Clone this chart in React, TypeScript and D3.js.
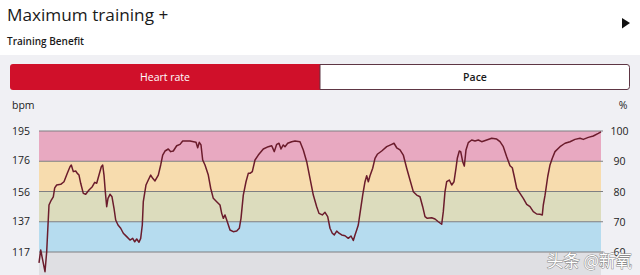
import React from "react";
import * as d3 from "d3";

// Heart-rate trace: elapsed minutes and bpm
const minutes = [
  0, 0.17, 0.33, 0.6, 0.77, 0.9, 1.0, 1.23, 1.43, 1.57, 1.77, 2.17, 2.5, 2.83, 3.1, 3.23, 3.43, 3.67, 3.83, 4.0,
  4.17, 4.43, 4.67, 5.0, 5.33, 5.57, 5.77, 6.0, 6.23, 6.37, 6.5, 6.63, 6.77, 6.9, 7.1, 7.3, 7.5, 7.67, 7.9, 8.17,
  8.43, 8.77, 9.1, 9.37, 9.57, 9.77, 10.0, 10.17, 10.33, 10.43, 10.7, 10.93, 11.17, 11.37, 11.6, 11.93, 12.17, 12.37, 12.6, 12.93,
  13.17, 13.43, 13.77, 14.1, 14.37, 15.1, 15.7, 15.87, 16.03, 16.2, 16.37, 16.6, 16.93, 17.17, 17.43, 17.77, 18.1, 18.27, 18.43, 18.6,
  18.83, 19.1, 19.43, 19.77, 20.03, 20.2, 20.43, 20.7, 20.93, 21.1, 21.33, 21.6, 21.93, 22.43, 22.93, 23.27, 23.53, 23.77, 24.0, 24.2,
  24.43, 24.6, 24.87, 25.27, 25.6, 26.1, 26.43, 26.77, 27.1, 27.43, 27.77, 28.0, 28.33, 28.6, 28.87, 29.1, 29.33, 29.53, 29.77, 30.0,
  30.27, 30.6, 30.93, 31.2, 31.43, 31.6, 31.77, 31.93, 32.1, 32.37, 32.6, 32.77, 32.93, 33.1, 33.37, 33.6, 33.83, 34.27, 34.77, 35.27,
  35.5, 35.77, 36.1, 36.43, 36.77, 37.1, 37.43, 37.77, 38.1, 38.37, 38.6, 38.83, 39.27, 39.6, 39.93, 40.27, 40.43, 40.6, 40.77, 41.03,
  41.27, 41.5, 41.7, 41.83, 42.03, 42.17, 42.37, 42.53, 42.7, 42.93, 43.27, 43.6, 43.93, 44.27, 44.77, 45.27, 45.77, 46.1, 46.43, 46.77,
  47.1, 47.33, 47.53, 47.77, 48.1, 48.43, 48.77, 49.1, 49.43, 49.77, 50.1, 50.33, 50.43, 50.6, 50.87, 51.1, 51.33, 51.6, 52.1, 52.6,
  53.1, 53.6, 54.1, 54.43, 54.93, 55.43, 55.93, 56.2,
];
const heartRate = [
  110, 118.3, 113.1, 104.3, 117.2, 134.4, 147.3, 150.5, 152.6, 158.3, 160.2, 160.6, 162.3, 167.7, 172, 173.1, 168.8, 169.2, 167.7, 166.6,
  161.3, 154.8, 154.2, 157, 159.1, 161.9, 161.3, 166.6, 172, 173.1, 166.6, 155.9, 146.2, 151.6, 154.2, 152.6, 145.2, 137.6, 134.4, 132.3,
  129.1, 126.9, 124.7, 125.8, 123.6, 125.4, 123.3, 125.8, 134.4, 149.4, 160.2, 163.4, 166.6, 164.5, 162.8, 166.6, 173.1, 179.5, 182.1, 183.4,
  181.7, 182.1, 185.5, 186.4, 188.6, 188.6, 187.7, 184.2, 187.7, 186, 176.3, 173.1, 166.6, 158.1, 151.6, 149.4, 147.3, 141.9, 138.7, 140.9,
  136.5, 131.2, 130.1, 130.5, 132.3, 138.7, 153.7, 162.3, 167.7, 167.7, 168.8, 176.3, 179.5, 183.4, 184.9, 185.5, 181.7, 186.4, 187.1, 183.4,
  186, 184.9, 187.1, 188.1, 188.6, 188.1, 182.8, 175.2, 164.5, 153.7, 146.2, 141.9, 140.9, 142.6, 139.8, 132.3, 129.1, 128, 130.5, 129.1,
  128, 127.5, 125.8, 127.3, 124.4, 128, 131.2, 134.4, 141.9, 153.7, 162.3, 166.2, 162.3, 166.2, 171, 177.4, 180, 182.1, 184.9, 186.4,
  187.1, 184.2, 182.8, 179.5, 171, 163.4, 155.9, 153.7, 152.6, 146.2, 139.8, 138.7, 139.1, 138.3, 136.5, 134.9, 143, 155.9, 162.3, 163.4,
  160.2, 162.3, 171, 177.4, 182.1, 181.7, 175.2, 172.4, 182.8, 187.5, 189.2, 188.6, 189.2, 188.1, 189.2, 190.3, 189.8, 188.1, 184.9, 178.4,
  172.6, 171.3, 165.5, 158.1, 154.8, 151.6, 147.7, 146.2, 143, 141.5, 141.3, 140.9, 147.3, 153.5, 165.5, 173.1, 177.4, 181.7, 184.9, 187.1,
  188.1, 189.6, 190.3, 189.6, 190.9, 191.8, 193.5, 194.5,
];

// Axis labels
const bpmTicks = [195, 176, 156, 137, 117];
const pctTicks = [100, 90, 80, 70, 60];

// Training zones as % of max heart rate
const zoneLow = [90, 80, 70, 60];
const zoneHigh = [100, 90, 80, 70];
const zoneColors = ["#e8a9c1", "#f7dcae", "#dcdcbd", "#b6dcef"];

const tabs = ["Heart rate", "Pace"];

const FONT = "'Open Sans', 'Noto Sans', sans-serif";

export default function App() {
  const W = 640;
  const H = 275;
  const left = 39;
  const right = 601;
  const top = 131;
  const bottom = 252;

  const x = d3.scaleLinear().domain([0, 56.2]).range([left, right]);
  const yBpm = d3.scaleLinear().domain([117, 195]).range([bottom, top]);
  const yPct = d3.scaleLinear().domain([60, 100]).range([bottom, top]);

  const pts = minutes.map((m, i) => [m, heartRate[i]] as [number, number]);
  const line = d3
    .line<[number, number]>()
    .x((d) => x(d[0]))
    .y((d) => yBpm(d[1]))
    .curve(d3.curveLinear);

  const tabMid = 320;
  const tabLeft = 10;
  const tabRight = 630;

  return (
    <svg
      width={W}
      height={H}
      style={{ position: "absolute", left: 0, top: 0, background: "#f0f0f4" }}
      fontFamily={FONT}
    >
      {/* header */}
      <rect x={0} y={0} width={W} height={55} fill="#ffffff" />
      <text x={7} y={21} fontSize={17.2} fill="#1a1a1a">
        Maximum training +
      </text>
      <text x={7} y={45} fontSize={10} fontWeight={600} fill="#1a1a1a">
        Training Benefit
      </text>
      <path d="M622,18 L630,23 L622,28.5 Z" fill="#111" />

      {/* tab selector */}
      <path
        d={`M${tabLeft + 3},64 H${tabMid} V90 H${tabLeft + 3} Q${tabLeft},90 ${tabLeft},87 V67 Q${tabLeft},64 ${tabLeft + 3},64 Z`}
        fill="#d0102a"
      />
      <path
        d={`M${tabMid},64.5 H${tabRight - 3} Q${tabRight - 0.5},64.5 ${tabRight - 0.5},67.5 V86.5 Q${tabRight - 0.5},89.5 ${tabRight - 3},89.5 H${tabMid} Z`}
        fill="#ffffff"
        stroke="#5e3644"
        strokeWidth={1}
      />
      <text x={(tabLeft + tabMid) / 2} y={81} fontSize={10.5} fill="#ffffff" textAnchor="middle">
        {tabs[0]}
      </text>
      <text x={(tabMid + tabRight) / 2} y={81} fontSize={10.5} fontWeight={600} fill="#1a1a1a" textAnchor="middle">
        {tabs[1]}
      </text>

      {/* plot background and zones */}
      <rect x={left} y={top} width={right - left} height={H - top} fill="#dfdfe3" />
      {zoneLow.map((lo, i) => (
        <rect
          key={lo}
          x={left}
          y={yPct(zoneHigh[i])}
          width={right - left}
          height={yPct(lo) - yPct(zoneHigh[i])}
          fill={zoneColors[i]}
        />
      ))}

      {/* grid lines */}
      {pctTicks.map((p) => (
        <line key={p} x1={left} x2={right + 2} y1={yPct(p)} y2={yPct(p)} stroke="#7f7f82" strokeWidth={1.2} />
      ))}

      {/* axis labels */}
      <text x={12} y={109} fontSize={10.5} fill="#222">bpm</text>
      {bpmTicks.map((b) => (
        <text key={b} x={12} y={yBpm(b) + 4} fontSize={10.5} fill="#222">
          {b}
        </text>
      ))}
      <text x={623} y={109} fontSize={10.5} fill="#222" textAnchor="middle">%</text>
      {pctTicks.map((p) => (
        <text key={p} x={619.5} y={yPct(p) + 4} fontSize={10.5} fill="#222" textAnchor="middle">
          {p}
        </text>
      ))}

      {/* heart-rate line */}
      <path d={line(pts) || ""} fill="none" stroke="#6b1c2c" strokeWidth={1.5} strokeLinejoin="round" />

      {/* watermark */}
      <text
        x={632}
        y={267}
        fontSize={16.5}
        textAnchor="end"
        fontFamily="'Noto Sans CJK SC', sans-serif"
        fill="#ffffff"
        stroke="#8a8a8a"
        strokeWidth={1}
        paintOrder="stroke"
      >
        头条 @新氧
      </text>
    </svg>
  );
}
